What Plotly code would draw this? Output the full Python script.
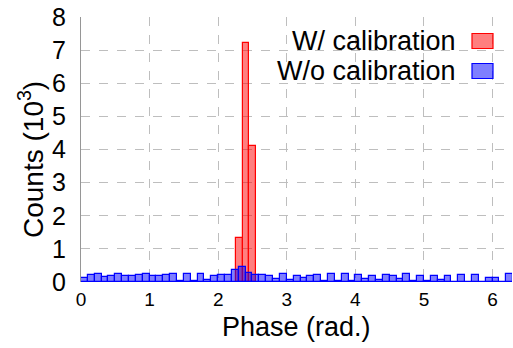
import math
import plotly.graph_objects as go

# ---- data (counts in units of 10^3) ----
red_bins = [23, 24, 25]                 # bin index, 64 bins over [0, 2*pi)
red_counts = [1.32, 7.22, 4.12]
red_nbins = 64

blue_width = 0.1                        # bins of 0.1 rad starting at 0
blue_counts = [0.13, 0.21, 0.23, 0.16, 0.19, 0.23, 0.17, 0.17, 0.21, 0.23,
               0.19, 0.17, 0.21, 0.24, 0.04, 0.24, 0.03, 0.23, 0.07, 0.18,
               0.21, 0.21, 0.35, 0.44, 0.27, 0.22, 0.22, 0.18, 0.08, 0.23,
               0.06, 0.19, 0.11, 0.18, 0.22, 0.04, 0.24, 0.03, 0.24, 0.04,
               0.20, 0.09, 0.17, 0.05, 0.20, 0.17, 0.10, 0.23, 0.04, 0.19,
               0.02, 0.19, 0.07, 0.17, 0.01, 0.22, 0.01, 0.22, 0.01, 0.13,
               0.12, 0.01, 0.24]

labels = ["W/ calibration", "W/o calibration"]
x_title = "Phase (rad.)"
y_title = "Counts (10<sup>3</sup>)"
x_ticks = [0, 1, 2, 3, 4, 5, 6]
y_ticks = [0, 1, 2, 3, 4, 5, 6, 7, 8]

TWO_PI = 2 * math.pi
rw = TWO_PI / red_nbins
red_x = [(b + 0.5) * rw for b in red_bins]
blue_x = [(i + 0.5) * blue_width for i in range(len(blue_counts))]

FONT = "Liberation Sans, Arial, Helvetica, sans-serif"
W, H = 513, 348
L, R, T, B = 81, 1, 17, 66

fig = go.Figure()
fig.add_trace(go.Bar(x=red_x, y=red_counts, width=rw,
                     marker=dict(color="rgba(255,0,0,0.5)",
                                 line=dict(color="rgb(255,0,0)", width=1.2)),
                     name=labels[0], showlegend=False))
fig.add_trace(go.Bar(x=blue_x, y=blue_counts, width=blue_width,
                     marker=dict(color="rgba(0,0,255,0.5)",
                                 line=dict(color="rgb(0,0,255)", width=1.2)),
                     name=labels[1], showlegend=False))


def px2paper_x(px):
    return (px - L) / (W - L - R)


def px2paper_y(py):
    return (H - B - py) / (H - T - B)


# custom gnuplot-style legend (text left, swatch right)
swatch = [("rgba(255,0,0,0.5)", "rgb(255,0,0)", 33.5, 48.5, 41.5),
          ("rgba(0,0,255,0.5)", "rgb(0,0,255)", 63.5, 78.5, 71.5)]
shapes = []
annotations = []
for lab, (fill, line, y0, y1, yc) in zip(labels, swatch):
    shapes.append(dict(type="rect", xref="paper", yref="paper",
                       x0=px2paper_x(472), x1=px2paper_x(493),
                       y0=px2paper_y(y1), y1=px2paper_y(y0),
                       fillcolor=fill, line=dict(color=line, width=1.2)))
    annotations.append(dict(text=lab, xref="paper", yref="paper",
                            x=px2paper_x(458), y=px2paper_y(yc),
                            xanchor="right", yanchor="middle", showarrow=False,
                            font=dict(family=FONT, size=27, color="black")))

# axis titles as positioned annotations
annotations.append(dict(text=x_title, xref="paper", yref="paper",
                        x=px2paper_x(296), y=px2paper_y(327),
                        xanchor="center", yanchor="middle", showarrow=False,
                        font=dict(family=FONT, size=27, color="black")))
annotations.append(dict(text=y_title, xref="paper", yref="paper",
                        x=px2paper_x(31), y=px2paper_y(160), textangle=-90,
                        xanchor="center", yanchor="middle", showarrow=False,
                        font=dict(family=FONT, size=28, color="black")))

fig.update_layout(
    width=W, height=H,
    margin=dict(l=L, r=R, t=T, b=B, pad=0),
    paper_bgcolor="white", plot_bgcolor="white",
    barmode="overlay", bargap=0,
    shapes=shapes, annotations=annotations,
    font=dict(family=FONT, color="black"),
    xaxis=dict(range=[0, TWO_PI], tickvals=x_ticks, ticktext=[str(v) for v in x_ticks],
               showgrid=True, gridcolor="rgb(190,190,190)", griddash="dash", gridwidth=1,
               zeroline=False, showline=False, ticks="", ticklabelstandoff=4,
               tickfont=dict(family=FONT, size=19)),
    yaxis=dict(range=[0, 8], tickvals=y_ticks, ticktext=[str(v) for v in y_ticks],
               showgrid=True, gridcolor="rgb(190,190,190)", griddash="dash", gridwidth=1,
               zeroline=False, showline=True, linecolor="rgb(150,150,150)", linewidth=1,
               ticks="", ticklabelstandoff=9,
               tickfont=dict(family=FONT, size=25)),
)

fig.write_html("out.html")
